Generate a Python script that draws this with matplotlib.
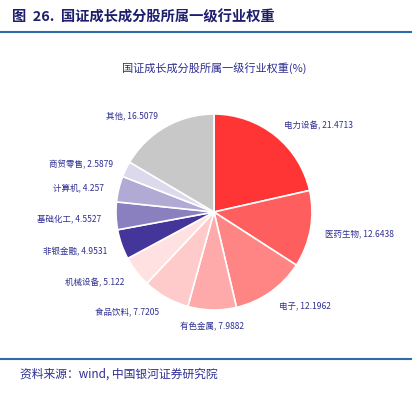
import matplotlib.pyplot as plt
from matplotlib.lines import Line2D

plt.rcParams['font.family'] = ['Noto Sans CJK SC', 'DejaVu Sans']

# industry weights (%)
industries = ['电力设备', '医药生物', '电子', '有色金属', '食品饮料', '机械设备',
              '非银金融', '基础化工', '计算机', '商贸零售', '其他']
weights = [21.4713, 12.6438, 12.1962, 7.9882, 7.7205, 5.122,
           4.9531, 4.5527, 4.257, 2.5879, 16.5079]
colors = ['#FF3535', '#FF5E5E', '#FF8585', '#FFAAAA', '#FFCACA', '#FFE1E1',
          '#44359A', '#8A80BF', '#B1AAD5', '#DCD9EC', '#C8C8C8']

navy = '#2E2E92'
W, H = 419, 393
fig = plt.figure(figsize=(W / 100, H / 100), dpi=100)

# pie axes: centre at (214, 212) px, radius 98 px
cx, cy, r, half = 214, 212, 98, 180
ax = fig.add_axes([(cx - half) / W, (H - cy - half) / H, 2 * half / W, 2 * half / H])
labels = [f'{n}, {v:g}' for n, v in zip(industries, weights)]
wedges, texts = ax.pie(weights, labels=labels, colors=colors, startangle=90,
                       counterclock=False, labeldistance=1.15,
                       wedgeprops=dict(edgecolor='white', linewidth=1.2),
                       textprops=dict(fontsize=6.1, color=navy))
for t in texts:
    x, y = t.get_position()
    t.set_position((x, y - 0.02))
    if abs(x) < 0.1:
        t.set_ha('center')
L = half / r
ax.set_xlim(-L, L)
ax.set_ylim(-L, L)
ax.set_aspect('equal')
ax.axis('off')

# chart title
fig.text(cx / W, 1 - 68 / H, '国证成长成分股所属一级行业权重(%)', ha='center', va='center',
         fontsize=8, color=navy)

# header and footer
fig.text(12 / W, 1 - 17 / H, '图  26.  国证成长成分股所属一级行业权重', ha='left', va='center',
         fontsize=10.3, fontweight='bold', color='#1E1E6E')
fig.add_artist(Line2D([0, 411 / W], [1 - 32 / H, 1 - 32 / H], color='#2E6BAA', linewidth=1.5))
fig.add_artist(Line2D([0, 411 / W], [1 - 359 / H, 1 - 359 / H], color='#2E6BAA', linewidth=1.5))
fig.text(20 / W, 1 - 374 / H, '资料来源：wind, 中国银河证券研究院', ha='left', va='center',
         fontsize=8.5, style='italic', color=navy)

fig.savefig('out.png', dpi=100)
